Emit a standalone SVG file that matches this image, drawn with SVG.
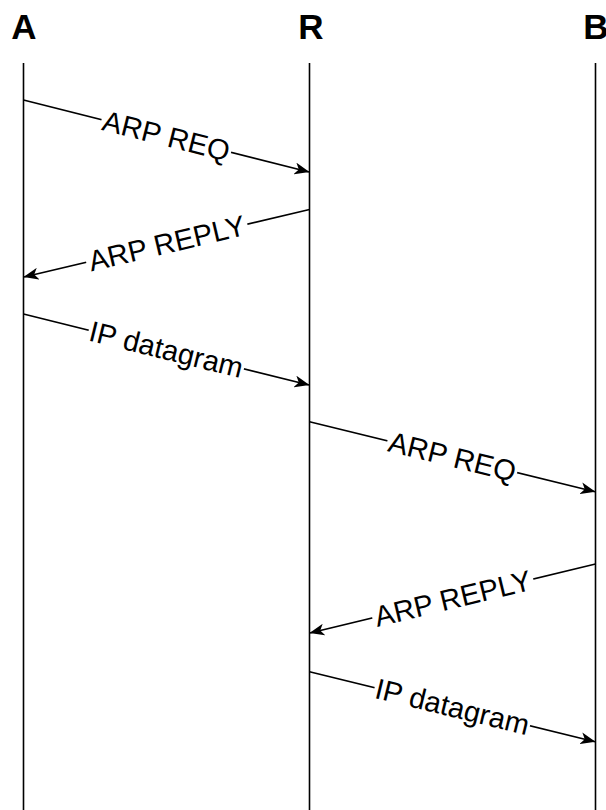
<svg xmlns="http://www.w3.org/2000/svg" width="606" height="810" viewBox="0 0 606 810">
<style>
.hdr{font-family:"Liberation Sans",Arial,sans-serif;font-weight:bold;font-size:35px;fill:#000;text-anchor:middle}
.life{stroke:#000;stroke-width:1.6;fill:none}
.msg{stroke:#000;stroke-width:1.6;fill:none;marker-end:url(#arr)}
.lbl{font-family:"Liberation Sans",Arial,sans-serif;font-size:29px;fill:#000;text-anchor:middle;dominant-baseline:central}
.bg{fill:#fff}
</style>
<defs>
<marker id="arr" viewBox="0 0 15 12" refX="14.5" refY="6" markerWidth="15" markerHeight="12" markerUnits="userSpaceOnUse" orient="auto">
<path d="M0,0 L15,6 L0,12 L4,6 z" fill="#000"/>
</marker>
</defs>
<g id="node-A"><text class="hdr" x="24" y="38.5">A</text><line class="life" x1="23.5" y1="63" x2="23.5" y2="810"/></g>
<g id="node-R"><text class="hdr" x="311" y="38.5">R</text><line class="life" x1="309.5" y1="63" x2="309.5" y2="810"/></g>
<g id="node-B"><text class="hdr" x="596" y="38.5">B</text><line class="life" x1="595.5" y1="63" x2="595.5" y2="810"/></g>
<g id="connectors">
<line class="msg" x1="23.5" y1="100" x2="309" y2="172"/>
<g transform="rotate(14.15 166.3 136)"><rect class="bg" x="99.5" y="121" width="133.6" height="30"/><text class="lbl" x="166.3" y="136">ARP REQ</text></g>
<line class="msg" x1="309.5" y1="209.5" x2="24" y2="277"/>
<g transform="rotate(-13.3 166.8 243.3)"><rect class="bg" x="84" y="228.3" width="165.6" height="30"/><text class="lbl" x="166.8" y="243.3">ARP REPLY</text></g>
<line class="msg" x1="23.5" y1="314" x2="309" y2="385"/>
<g transform="rotate(13.97 166.3 349.5)"><rect class="bg" x="86.3" y="334.5" width="160" height="30"/><text class="lbl" x="166.3" y="349.5">IP datagram</text></g>
<line class="msg" x1="309.5" y1="421.7" x2="595" y2="491.7"/>
<g transform="rotate(13.78 452.3 456.7)"><rect class="bg" x="385.5" y="441.7" width="133.6" height="30"/><text class="lbl" x="452.3" y="456.7">ARP REQ</text></g>
<line class="msg" x1="595.5" y1="564" x2="310" y2="633"/>
<g transform="rotate(-13.6 452.8 598.5)"><rect class="bg" x="370" y="583.5" width="165.6" height="30"/><text class="lbl" x="452.8" y="598.5">ARP REPLY</text></g>
<line class="msg" x1="309.5" y1="671.7" x2="595" y2="741.7"/>
<g transform="rotate(13.78 452.3 706.7)"><rect class="bg" x="372.3" y="691.7" width="160" height="30"/><text class="lbl" x="452.3" y="706.7">IP datagram</text></g>
</g>
</svg>
